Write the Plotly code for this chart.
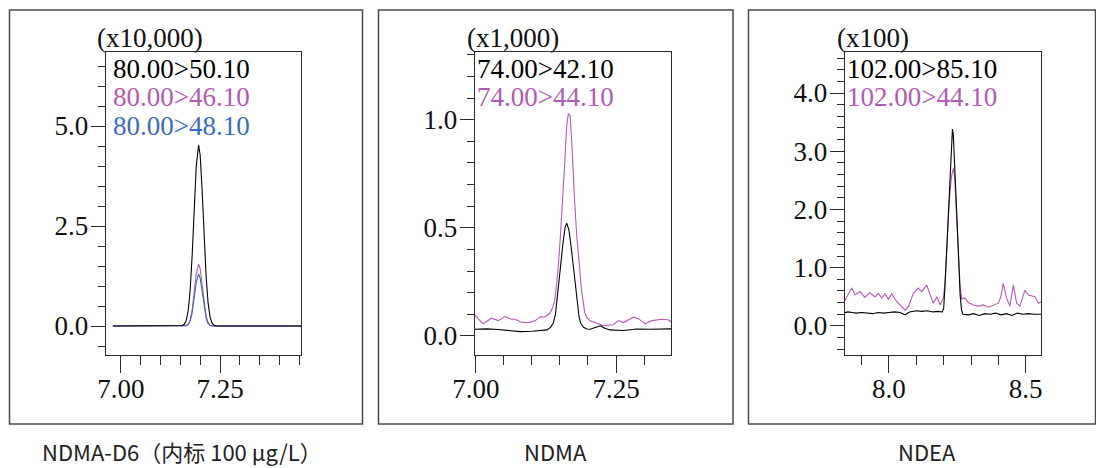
import plotly.graph_objects as go

W, H = 1096, 468

# ---------------- NDMA-D6 (internal standard), intensity x10,000 ----------------
d6_time = [6.980, 7.100, 7.145, 7.150, 7.155, 7.160, 7.165, 7.170, 7.175, 7.180,
           7.185, 7.190, 7.196, 7.200, 7.205, 7.210, 7.215, 7.220, 7.225, 7.230,
           7.235, 7.240, 7.245, 7.300, 7.460]
d6_50 = [0, 0, 0, 0.002, 0.011, 0.043, 0.14, 0.40, 0.93, 1.80,
         2.93, 3.98, 4.525, 4.27, 3.38, 2.24, 1.23, 0.57, 0.22, 0.07,
         0.02, 0.005, 0, 0, 0]
d6_46 = [0, 0, 0, 0, 0, 0.002, 0.010, 0.046, 0.156, 0.41,
         0.83, 1.29, 1.55, 1.43, 1.02, 0.56, 0.24, 0.077, 0.019, 0.004,
         0, 0, 0, 0, 0]
d6_48 = [0, 0, 0, 0, 0, 0.0015, 0.008, 0.039, 0.13, 0.34,
         0.70, 1.08, 1.30, 1.20, 0.86, 0.47, 0.20, 0.065, 0.016, 0.003,
         0, 0, 0, 0, 0]

# ---------------- NDMA, intensity x1,000 ----------------
ndma_42_time = [6.996, 7.020, 7.040, 7.060, 7.079, 7.100, 7.115, 7.127, 7.133, 7.138,
                7.142, 7.145, 7.148, 7.151, 7.155, 7.159, 7.162, 7.166, 7.170, 7.174,
                7.177, 7.180, 7.184, 7.187, 7.192, 7.198, 7.204, 7.214, 7.222, 7.230,
                7.239, 7.263, 7.287, 7.311, 7.334, 7.350]
ndma_42 = [0.031, 0.033, 0.030, 0.026, 0.020, 0.022, 0.027, 0.028, 0.040, 0.059,
           0.10, 0.167, 0.24, 0.32, 0.42, 0.50, 0.522, 0.49, 0.41, 0.32,
           0.24, 0.167, 0.09, 0.059, 0.040, 0.032, 0.031, 0.040, 0.047, 0.036,
           0.028, 0.025, 0.032, 0.031, 0.034, 0.033]
ndma_44_time = [6.996, 7.005, 7.013, 7.021, 7.028, 7.040, 7.052, 7.064, 7.070, 7.082,
                7.097, 7.106, 7.115, 7.123, 7.132, 7.137, 7.141, 7.144, 7.147, 7.151,
                7.155, 7.159, 7.162, 7.165, 7.168, 7.171, 7.176, 7.180, 7.185, 7.188,
                7.191, 7.194, 7.198, 7.204, 7.216, 7.227, 7.245, 7.254, 7.263, 7.272,
                7.281, 7.290, 7.302, 7.314, 7.331, 7.343, 7.350]
ndma_44 = [0.102, 0.080, 0.056, 0.070, 0.082, 0.071, 0.090, 0.077, 0.077, 0.062,
           0.063, 0.071, 0.089, 0.088, 0.105, 0.13, 0.167, 0.24, 0.32, 0.47,
           0.63, 0.82, 0.97, 1.028, 1.02, 0.90, 0.63, 0.46, 0.32, 0.22,
           0.167, 0.11, 0.085, 0.070, 0.059, 0.048, 0.052, 0.071, 0.062, 0.075,
           0.087, 0.080, 0.056, 0.071, 0.077, 0.075, 0.062]

# ---------------- NDEA, intensity x100 ----------------
ndea_85_time = [7.833, 7.850, 7.865, 7.880, 7.900, 7.920, 7.940, 7.960, 7.980, 8.000,
                8.020, 8.040, 8.059, 8.075, 8.100, 8.120, 8.140, 8.160, 8.180, 8.195,
                8.200, 8.205, 8.210, 8.215, 8.220, 8.225, 8.230, 8.232, 8.235, 8.240,
                8.245, 8.250, 8.255, 8.260, 8.265, 8.270, 8.290, 8.310, 8.330, 8.350,
                8.370, 8.390, 8.410, 8.430, 8.450, 8.470, 8.490, 8.510, 8.530, 8.559]
ndea_85 = [0.22, 0.24, 0.23, 0.22, 0.23, 0.22, 0.21, 0.23, 0.22, 0.23,
           0.24, 0.23, 0.19, 0.24, 0.26, 0.25, 0.26, 0.24, 0.25, 0.24,
           0.30, 0.70, 1.20, 1.80, 2.40, 2.95, 3.32, 3.38, 3.30, 2.85,
           2.25, 1.70, 1.10, 0.55, 0.28, 0.20, 0.19, 0.21, 0.18, 0.21,
           0.20, 0.22, 0.19, 0.21, 0.18, 0.22, 0.20, 0.21, 0.20, 0.20]
ndea_44_time = [7.833, 7.845, 7.864, 7.876, 7.894, 7.912, 7.930, 7.949, 7.961, 7.973,
                7.985, 7.998, 8.010, 8.028, 8.046, 8.059, 8.071, 8.089, 8.107, 8.120,
                8.138, 8.150, 8.162, 8.175, 8.187, 8.199, 8.205, 8.210, 8.215, 8.220,
                8.225, 8.230, 8.236, 8.240, 8.245, 8.250, 8.255, 8.260, 8.266, 8.278,
                8.290, 8.309, 8.327, 8.345, 8.363, 8.382, 8.400, 8.409, 8.418, 8.430,
                8.442, 8.455, 8.467, 8.479, 8.497, 8.510, 8.522, 8.534, 8.546, 8.559]
ndea_44 = [0.39, 0.50, 0.65, 0.53, 0.59, 0.49, 0.57, 0.50, 0.56, 0.48,
           0.55, 0.46, 0.55, 0.42, 0.34, 0.27, 0.33, 0.56, 0.65, 0.59,
           0.70, 0.56, 0.39, 0.50, 0.36, 0.48, 0.75, 1.20, 1.70, 2.10,
           2.40, 2.60, 2.71, 2.55, 2.10, 1.60, 1.15, 0.70, 0.46, 0.48,
           0.40, 0.36, 0.34, 0.36, 0.32, 0.35, 0.39, 0.50, 0.73, 0.48,
           0.34, 0.70, 0.39, 0.34, 0.61, 0.53, 0.51, 0.50, 0.39, 0.42]

titles = ["NDMA-D6（内标 100 μg/L）", "NDMA", "NDEA"]
units = ["(x10,000)", "(x1,000)", "(x100)"]
mrm_labels = [["80.00>50.10", "80.00>46.10", "80.00>48.10"],
              ["74.00>42.10", "74.00>44.10"],
              ["102.00>85.10", "102.00>44.10"]]

BLACK = "#000000"
MAGENTA = "#b45ab4"
BLUE = "#3a6bc0"
AX = "#2a2a2a"
SERIF = "Liberation Serif"
FS = 27

series = [
    [(d6_time, d6_46, MAGENTA), (d6_time, d6_48, BLUE), (d6_time, d6_50, BLACK)],
    [(ndma_44_time, ndma_44, MAGENTA), (ndma_42_time, ndma_42, BLACK)],
    [(ndea_44_time, ndea_44, MAGENTA), (ndea_85_time, ndea_85, BLACK)],
]
label_colors = [[BLACK, MAGENTA, BLUE], [BLACK, MAGENTA], [BLACK, MAGENTA]]

# pixel geometry of each panel: plot area, outer frame, axis settings
panels = [
    dict(x0=105.7, x1=301.0, fx0=9.5, fx1=362.5, xr=[6.962, 7.454], yr=[-0.725, 6.85],
         xd=0.25, xm=0.05, xf=".2f", yd=2.5, ym=0.5, unit_x=95, lab_x=111, title_x=182),
    dict(x0=474.7, x1=671.0, fx0=378.5, fx1=733.0, xr=[6.998, 7.348], yr=[-0.088, 1.313],
         xd=0.25, xm=0.05, xf=".2f", yd=0.5, ym=0.1, unit_x=465, lab_x=474.5, title_x=555),
    dict(x0=844.7, x1=1041.0, fx0=748.5, fx1=1095.5, xr=[7.838, 8.556], yr=[-0.5, 4.705],
         xd=0.5, xm=0.1, xf=".1f", yd=1.0, ym=0.2, unit_x=835, lab_x=844.5, title_x=927),
]
TOP, BOTTOM = 52.0, 355.0

fig = go.Figure()
layout = dict(width=W, height=H, margin=dict(l=0, r=0, t=0, b=0, pad=0, autoexpand=False),
              autosize=False,
              paper_bgcolor="white", plot_bgcolor="white", showlegend=False)
annotations = []
shapes = []

for i, p in enumerate(panels):
    n = "" if i == 0 else str(i + 1)
    for t, v, c in series[i]:
        fig.add_trace(go.Scatter(x=t, y=v, mode="lines", line=dict(color=c, width=1.1),
                                 xaxis="x" + n, yaxis="y" + n, hoverinfo="skip"))
    layout["xaxis" + n] = dict(
        domain=[p["x0"] / W, p["x1"] / W], range=p["xr"], anchor="y" + n,
        showline=True, linecolor=AX, linewidth=1, mirror=True, automargin=False,
        ticks="outside", ticklen=17, tickwidth=1, tickcolor=AX, ticklabelstandoff=-7,
        tick0=0, dtick=p["xd"], tickformat=p["xf"],
        tickfont=dict(family=SERIF, size=FS, color="#111"),
        minor=dict(ticks="outside", ticklen=9, tickwidth=1, tickcolor=AX,
                   tick0=0, dtick=p["xm"], showgrid=False),
        showgrid=False, zeroline=False, fixedrange=True)
    layout["yaxis" + n] = dict(
        domain=[1 - BOTTOM / H, 1 - TOP / H], range=p["yr"], anchor="x" + n,
        showline=True, linecolor=AX, linewidth=1, mirror=True, automargin=False,
        ticks="outside", ticklen=14, tickwidth=1, tickcolor=AX, ticklabelstandoff=-3,
        tick0=0, dtick=p["yd"], tickformat=".1f",
        tickfont=dict(family=SERIF, size=FS, color="#111"),
        minor=dict(ticks="outside", ticklen=7, tickwidth=1, tickcolor=AX,
                   tick0=0, dtick=p["ym"], showgrid=False),
        showgrid=False, zeroline=False, fixedrange=True)

    # outer frame around each chromatogram
    shapes.append(dict(type="rect", xref="paper", yref="paper",
                       x0=p["fx0"] / W, x1=p["fx1"] / W,
                       y0=1 - 424 / H, y1=1 - 10 / H,
                       line=dict(color="#4a4a4a", width=1.5), fillcolor="rgba(0,0,0,0)"))
    # intensity multiplier above the y axis
    annotations.append(dict(text=units[i], xref="paper", yref="paper",
                            x=p["unit_x"] / W, y=1 - 38 / H, xanchor="left", yanchor="middle",
                            showarrow=False, font=dict(family=SERIF, size=FS, color="#111")))
    # MRM transition labels
    for k, lab in enumerate(mrm_labels[i]):
        annotations.append(dict(text=lab, xref="paper", yref="paper",
                                x=p["lab_x"] / W, y=1 - (68.5 + 28.8 * k) / H,
                                xanchor="left", yanchor="middle", showarrow=False,
                                font=dict(family=SERIF, size=FS, color=label_colors[i][k])))
    # compound name under the frame
    annotations.append(dict(text=titles[i], xref="paper", yref="paper",
                            x=p["title_x"] / W, y=1 - 451 / H, xanchor="center", yanchor="middle",
                            showarrow=False,
                            font=dict(family="Noto Sans CJK SC", size=22, color="#222")))

layout["annotations"] = annotations
layout["shapes"] = shapes
fig.update_layout(**layout)
fig.write_html("out.html")
